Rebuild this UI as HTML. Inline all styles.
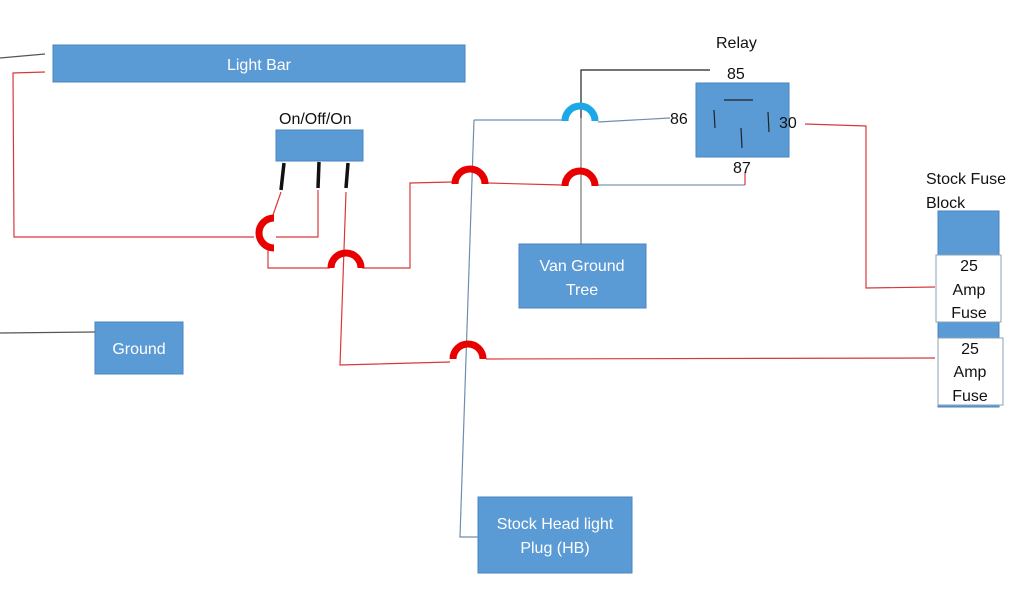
<!DOCTYPE html>
<html><head><meta charset="utf-8"><style>
html,body{margin:0;padding:0;background:#fff;}
svg{display:block;}
text{font-family:"Liberation Sans","DejaVu Sans",sans-serif;}
</style></head><body>
<svg width="1024" height="600" viewBox="0 0 1024 600" xmlns="http://www.w3.org/2000/svg">
<rect width="1024" height="600" fill="#fff"/>
<g fill="#5b9bd5" stroke="#4a86bf" stroke-width="1">
<rect x="53" y="45" width="412" height="37"/>
<rect x="276" y="130" width="87" height="31"/>
<rect x="696" y="83" width="93" height="74"/>
<rect x="519" y="244" width="127" height="64"/>
<rect x="95" y="322" width="88" height="52"/>
<rect x="478" y="497" width="154" height="76"/>
<rect x="938" y="211" width="61" height="196"/>
</g>
<g fill="#fff" stroke="#8aa0b8" stroke-width="1">
<rect x="936" y="255" width="65" height="67"/>
<rect x="938" y="338" width="65" height="67"/>
</g>
<!-- gray/black lines -->
<g fill="none" stroke-width="1.2">
<polyline points="0,58 45,54" stroke="#555"/>
<polyline points="0,333 95,332" stroke="#555"/>
<polyline points="710,70 581,70 581,118" stroke="#222"/>
<polyline points="581,118 581,245" stroke="#777"/>
<polyline points="474,120 562,120" stroke="#6d8fae"/>
<polyline points="598,122 670,118" stroke="#6d8fae"/>
<polyline points="474,120 460,537 478,537" stroke="#6d8fae"/>
<polyline points="598,185 745,185" stroke="#7a98b5"/>
</g>
<!-- red wires -->
<g fill="none" stroke="#d9383a" stroke-width="1.2">
<polyline points="45,72 13,73 14,237 254,237"/>
<polyline points="276,237 318,237 318,190"/>
<polyline points="281,192 273,215"/>
<polyline points="268,250 268,268 330,268"/>
<polyline points="362,268 410,268 410,183 452,182"/>
<polyline points="488,183 562,185"/>
<polyline points="745,185 745,172"/>
<polyline points="346,192 340,365 450,362"/>
<polyline points="486,359 935,358"/>
<polyline points="805,124 866,126 866,288 935,287"/>
</g>
<!-- switch pins -->
<g stroke="#111" stroke-width="3.5">
<line x1="284" y1="163" x2="281" y2="190"/>
<line x1="319" y1="162" x2="318" y2="188"/>
<line x1="348" y1="163" x2="346" y2="188"/>
</g>
<!-- relay inner -->
<g stroke="#222" stroke-width="1.2">
<line x1="724" y1="100" x2="753" y2="100"/>
<line x1="714" y1="110" x2="715" y2="128"/>
<line x1="768" y1="112" x2="769" y2="132"/>
<line x1="741" y1="128" x2="742" y2="148"/>
</g>
<!-- jumper arcs -->
<g fill="none" stroke-width="7">
<path d="M274,218 A15,15 0 0 0 274,248" stroke="#e80000"/>
<path d="M331,268 A15,15 0 0 1 361,268" stroke="#e80000"/>
<path d="M455,184 A15,15 0 0 1 485,184" stroke="#e80000"/>
<path d="M565,186 A15,15 0 0 1 595,186" stroke="#e80000"/>
<path d="M453,359 A15,15 0 0 1 483,359" stroke="#e80000"/>
<path d="M565,121 A15,15 0 0 1 595,121" stroke="#1aa9e6"/>
</g>
<g fill="#fff" font-size="16" text-anchor="middle">
<text x="259" y="70">Light Bar</text>
<text x="582" y="271">Van Ground</text>
<text x="582" y="295">Tree</text>
<text x="139" y="354">Ground</text>
<text x="555" y="529">Stock Head light</text>
<text x="555" y="553">Plug (HB)</text>
</g>
<g fill="#111" font-size="16">
<text x="279" y="124">On/Off/On</text>
<text x="716" y="48">Relay</text>
<text x="727" y="79">85</text>
<text x="670" y="124">86</text>
<text x="779" y="128">30</text>
<text x="733" y="173">87</text>
<text x="926" y="184">Stock Fuse</text>
<text x="926" y="208">Block</text>
<g text-anchor="middle">
<text x="969" y="271">25</text>
<text x="969" y="295">Amp</text>
<text x="969" y="318">Fuse</text>
<text x="970" y="354">25</text>
<text x="970" y="377">Amp</text>
<text x="970" y="401">Fuse</text>
</g>
</g>
</svg>
</body></html>
